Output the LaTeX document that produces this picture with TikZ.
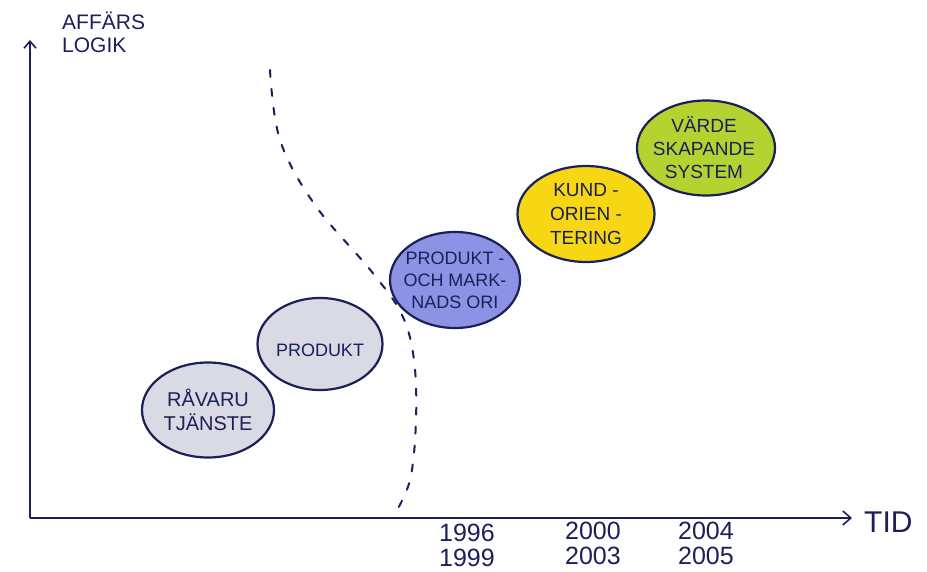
\documentclass[tikz,border=0pt]{standalone}
\usepackage{fontspec}
\setmainfont{Liberation Sans}
\usetikzlibrary{shapes.geometric,arrows.meta}
\definecolor{ink}{RGB}{27,31,90}
\definecolor{grayfill}{RGB}{218,218,228}
\definecolor{bluefill}{RGB}{140,146,228}
\definecolor{yellowfill}{RGB}{247,214,20}
\definecolor{greenfill}{RGB}{180,211,48}
\tikzset{
  stage/.style={ellipse, draw=ink, line width=2.2pt, inner sep=0pt,
    minimum width=130pt, minimum height=94pt},
  stagetext/.style={text=ink, align=center, inner sep=0pt, font=\fontsize{18}{22}\selectfont},
  axis/.style={draw=ink, line width=1.6pt},
  lbl/.style={text=ink, align=left, inner sep=0pt},
  yearlbl/.style={text=ink, align=center, inner sep=0pt, font=\fontsize{25}{25}\selectfont},
  boundary/.style={draw=ink, line width=2pt, dash pattern=on 7pt off 12pt, line cap=round}
}
\begin{document}
\begin{tikzpicture}[x=1pt,y=-1pt]
\useasboundingbox[fill=white] (0,0) rectangle (927,572);
% axes
\coordinate (O) at (30,518);
\coordinate (ytop) at (30,40);
\coordinate (xend) at (852,518);
\draw[axis, -{Straight Barb[length=7pt,width=12pt]}] (O) -- (ytop);
\draw[axis, -{Straight Barb[length=8pt,width=14pt]}] (O) -- (xend);
\node[lbl, anchor=north west, font=\fontsize{21}{23}\selectfont] (ylab) at (62,12) {AFFÄRS\\LOGIK};
\node[lbl, anchor=west, font=\fontsize{30}{30}\selectfont] (xlab) at (864,522) {TID};
% dashed boundary
\draw[boundary] plot[smooth, tension=0.6] coordinates
  {(270,70) (280,140) (315,205) (372,272) (402,315) (414,360) (416,420) (410,480) (393,517)};
% stages
\node[stage, fill=grayfill, minimum width=132pt, minimum height=95pt] (ravaru) at (208,410) {};
\node[stagetext, font=\fontsize{20}{24}\selectfont] (ravarut) at (ravaru.center) {RÅVARU\\TJÄNSTE};
\node[stage, fill=grayfill, minimum width=125pt, minimum height=92pt] (produkt) at (320,344) {};
\node[stagetext, font=\fontsize{18}{22}\selectfont] (produktt) at ([yshift=-6pt]produkt.center) {PRODUKT};
\node[stage, fill=bluefill, minimum width=130pt, minimum height=96pt] (pmo) at (455,280) {};
\node[stagetext] (pmot) at (pmo.center) {PRODUKT -\\OCH MARK-\\NADS ORI};
\node[stage, fill=yellowfill, minimum width=137pt, minimum height=96pt] (kund) at (586,214) {};
\node[stagetext, font=\fontsize{19}{24}\selectfont] (kundt) at (kund.center) {KUND -\\ORIEN -\\TERING};
\node[stage, fill=greenfill, minimum width=138pt, minimum height=95pt] (varde) at (706,148) {};
\node[stagetext, font=\fontsize{19}{23}\selectfont] (vardet) at ([xshift=-2pt]varde.center) {VÄRDE\\SKAPANDE\\SYSTEM};
% years
\node[yearlbl] (y1) at (467,545) {1996\\1999};
\node[yearlbl] (y2) at (593,543) {2000\\2003};
\node[yearlbl] (y3) at (706,543) {2004\\2005};
\end{tikzpicture}
\end{document}
